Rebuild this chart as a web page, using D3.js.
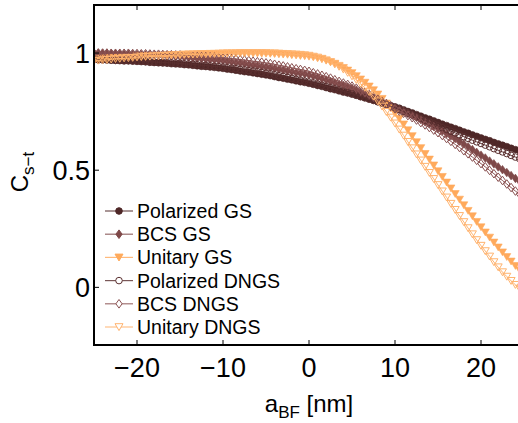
<!DOCTYPE html>
<html><head><meta charset="utf-8">
<script src="https://cdn.jsdelivr.net/npm/d3@7"></script>
<style>
html,body{margin:0;padding:0;background:#fff;}
svg{display:block;font-family:"Liberation Sans",Arial,sans-serif;}
</style></head>
<body>
<svg id="chart" width="518" height="423"></svg>
<script>
const aBF = [-25,-24.5,-24,-23.5,-23,-22.5,-22,-21.5,-21,-20.5,-20,-19.5,-19,-18.5,-18,-17.5,-17,-16.5,-16,-15.5,-15,-14.5,-14,-13.5,-13,-12.5,-12,-11.5,-11,-10.5,-10,-9.5,-9,-8.5,-8,-7.5,-7,-6.5,-6,-5.5,-5,-4.5,-4,-3.5,-3,-2.5,-2,-1.5,-1,-0.5,0,0.5,1,1.5,2,2.5,3,3.5,4,4.5,5,5.5,6,6.5,7,7.5,8,8.5,9,9.5,10,10.5,11,11.5,12,12.5,13,13.5,14,14.5,15,15.5,16,16.5,17,17.5,18,18.5,19,19.5,20,20.5,21,21.5,22,22.5,23,23.5,24,24.5,25];

const polarizedGS = [0.972,0.971,0.971,0.970,0.969,0.968,0.967,0.966,0.966,0.965,0.964,0.963,0.962,0.960,0.959,0.958,0.957,0.956,0.954,0.953,0.952,0.950,0.949,0.947,0.945,0.943,0.942,0.940,0.938,0.936,0.934,0.931,0.929,0.926,0.923,0.920,0.918,0.915,0.912,0.909,0.906,0.903,0.899,0.895,0.892,0.888,0.885,0.881,0.877,0.874,0.870,0.866,0.861,0.857,0.852,0.847,0.843,0.838,0.833,0.829,0.824,0.819,0.813,0.808,0.803,0.798,0.792,0.787,0.782,0.776,0.771,0.765,0.758,0.751,0.745,0.738,0.731,0.724,0.718,0.711,0.704,0.697,0.691,0.684,0.678,0.671,0.664,0.658,0.651,0.645,0.638,0.632,0.626,0.619,0.613,0.607,0.601,0.594,0.588,0.582,0.576];

const bcsGS = [1.000,1.000,0.999,0.999,0.998,0.997,0.997,0.996,0.996,0.995,0.994,0.993,0.992,0.991,0.990,0.989,0.988,0.987,0.986,0.985,0.984,0.982,0.981,0.979,0.977,0.976,0.974,0.972,0.971,0.969,0.967,0.964,0.962,0.959,0.957,0.954,0.951,0.948,0.946,0.943,0.940,0.937,0.934,0.930,0.927,0.923,0.920,0.916,0.913,0.910,0.906,0.901,0.896,0.890,0.885,0.879,0.873,0.867,0.862,0.856,0.850,0.842,0.834,0.826,0.818,0.810,0.802,0.793,0.785,0.776,0.768,0.759,0.751,0.742,0.734,0.725,0.716,0.706,0.697,0.687,0.678,0.667,0.656,0.646,0.635,0.624,0.612,0.600,0.588,0.576,0.564,0.552,0.539,0.527,0.514,0.502,0.490,0.477,0.465,0.452,0.440];

const unitaryGS = [0.975,0.976,0.977,0.978,0.980,0.981,0.982,0.983,0.984,0.985,0.986,0.987,0.987,0.988,0.989,0.990,0.990,0.991,0.992,0.992,0.993,0.994,0.994,0.995,0.995,0.996,0.996,0.997,0.997,0.997,0.998,0.998,0.998,0.999,0.999,0.999,0.999,0.999,0.999,0.998,0.998,0.997,0.996,0.995,0.994,0.993,0.991,0.990,0.988,0.987,0.985,0.982,0.978,0.974,0.968,0.962,0.955,0.946,0.937,0.926,0.915,0.902,0.888,0.874,0.858,0.842,0.824,0.805,0.785,0.765,0.743,0.720,0.696,0.671,0.646,0.620,0.595,0.570,0.546,0.521,0.496,0.472,0.448,0.423,0.399,0.375,0.351,0.327,0.304,0.280,0.257,0.235,0.213,0.192,0.171,0.150,0.130,0.111,0.092,0.073,0.055];

const polarizedDNGS = [0.972,0.971,0.971,0.971,0.970,0.969,0.969,0.968,0.968,0.967,0.966,0.965,0.964,0.963,0.962,0.961,0.960,0.959,0.958,0.957,0.956,0.954,0.953,0.952,0.950,0.948,0.947,0.945,0.943,0.942,0.940,0.937,0.935,0.933,0.930,0.928,0.925,0.923,0.920,0.917,0.914,0.911,0.907,0.903,0.900,0.896,0.892,0.888,0.884,0.880,0.876,0.872,0.867,0.862,0.857,0.852,0.847,0.842,0.837,0.832,0.827,0.821,0.815,0.810,0.804,0.798,0.792,0.786,0.780,0.773,0.766,0.759,0.751,0.743,0.736,0.728,0.720,0.712,0.705,0.697,0.689,0.681,0.674,0.666,0.659,0.651,0.643,0.636,0.628,0.621,0.614,0.607,0.600,0.592,0.585,0.578,0.571,0.563,0.556,0.549,0.543];

const bcsDNGS = [1.000,1.000,1.000,1.000,0.999,0.999,0.999,0.999,0.999,0.998,0.998,0.997,0.997,0.996,0.995,0.995,0.994,0.993,0.993,0.992,0.992,0.990,0.990,0.988,0.987,0.986,0.985,0.984,0.983,0.981,0.980,0.978,0.976,0.974,0.972,0.970,0.968,0.965,0.963,0.961,0.958,0.955,0.952,0.948,0.945,0.941,0.937,0.933,0.930,0.926,0.922,0.916,0.911,0.905,0.899,0.893,0.886,0.879,0.872,0.866,0.859,0.850,0.841,0.832,0.823,0.813,0.803,0.793,0.783,0.772,0.762,0.752,0.743,0.733,0.724,0.714,0.703,0.693,0.682,0.671,0.660,0.648,0.635,0.623,0.610,0.597,0.583,0.570,0.556,0.542,0.528,0.514,0.499,0.485,0.470,0.456,0.441,0.426,0.411,0.397,0.382];

const unitaryDNGS = [0.966,0.968,0.970,0.971,0.973,0.975,0.976,0.978,0.979,0.980,0.982,0.983,0.984,0.985,0.986,0.987,0.988,0.989,0.990,0.991,0.992,0.993,0.994,0.994,0.995,0.996,0.996,0.997,0.997,0.998,0.998,0.999,0.999,0.999,1.000,1.000,1.000,1.000,1.000,1.000,1.000,0.999,0.999,0.998,0.997,0.996,0.995,0.994,0.993,0.991,0.989,0.985,0.981,0.976,0.969,0.961,0.952,0.942,0.930,0.916,0.901,0.886,0.869,0.852,0.834,0.815,0.794,0.772,0.749,0.725,0.700,0.674,0.648,0.621,0.594,0.568,0.542,0.515,0.489,0.463,0.437,0.410,0.384,0.357,0.331,0.305,0.279,0.253,0.227,0.202,0.178,0.155,0.132,0.108,0.086,0.065,0.046,0.028,0.011,-0.005,-0.020];

const seriesNames = ["Polarized GS","BCS GS","Unitary GS","Polarized DNGS","BCS DNGS","Unitary DNGS"];
const xTicks = [-20,-10,0,10,20];
const yTicks = [0,0.5,1];
const xLabel = "a";
const xLabelSub = "BF";
const xLabelUnit = " [nm]";
const yLabel = "C";
const yLabelSub = "s\u2212t";

const colors = ["#4e2727","#7e4848","#ffaa5c","#5a2f2f","#8a5151","#ffb36e"];
const shapes = ["circle","diamond","triangle","circle","diamond","triangle"];
const filled = [true,true,true,false,false,false];
const values = [polarizedGS,bcsGS,unitaryGS,polarizedDNGS,bcsDNGS,unitaryDNGS];

const svg = d3.select("#chart");
const x = d3.scaleLinear().domain([-25,25]).range([94,524]);
const y = d3.scaleLinear().domain([-0.246,1.205]).range([345,5]);

function markerPath(shape){
  if(shape==="circle") return d3.symbol().type(d3.symbolCircle).size(Math.PI*3.3*3.3)();
  if(shape==="diamond") return "M0,-4.3L3.1,0L0,4.3L-3.1,0Z";
  return "M-4,-3.3L4,-3.3L0,3.6Z";
}

svg.append("defs").append("clipPath").attr("id","clip")
  .append("rect").attr("x",94).attr("y",5).attr("width",430).attr("height",340);

const plot = svg.append("g").attr("clip-path","url(#clip)");
const line = d3.line().x((d,i)=>x(aBF[i])).y(d=>y(d));

values.forEach((vals,k)=>{
  const g = plot.append("g");
  g.append("path").attr("d",line(vals)).attr("fill","none")
    .attr("stroke",colors[k]).attr("stroke-width",1);
  g.selectAll("path.m").data(vals).enter().append("path").attr("class","m")
    .attr("d",markerPath(shapes[k]))
    .attr("transform",(d,i)=>`translate(${x(aBF[i])},${y(d)})`)
    .attr("fill",filled[k]?colors[k]:"none")
    .attr("stroke",colors[k]).attr("stroke-width",filled[k]?0.6:1);
});

// axes frame
const ax = svg.append("g").attr("stroke","#000").attr("fill","none");
ax.append("line").attr("x1",94).attr("x2",94).attr("y1",4).attr("y2",346).attr("stroke-width",2);
ax.append("line").attr("x1",93).attr("x2",518).attr("y1",5).attr("y2",5).attr("stroke-width",2);
ax.append("line").attr("x1",93).attr("x2",518).attr("y1",345).attr("y2",345).attr("stroke-width",2);

// ticks
xTicks.forEach(t=>{
  ax.append("line").attr("x1",x(t)).attr("x2",x(t)).attr("y1",5).attr("y2",10).attr("stroke-width",1);
  ax.append("line").attr("x1",x(t)).attr("x2",x(t)).attr("y1",345).attr("y2",340).attr("stroke-width",1);
});
yTicks.forEach(t=>{
  ax.append("line").attr("x1",94).attr("x2",99).attr("y1",y(t)).attr("y2",y(t)).attr("stroke-width",1);
});

const fmtX = d => (d<0?"\u2212":"")+Math.abs(d);
svg.append("g").selectAll("text").data(xTicks).enter().append("text")
  .attr("x",d=>x(d)).attr("y",377).attr("text-anchor","middle")
  .attr("font-size",27).attr("fill","#000").text(fmtX);
svg.append("g").selectAll("text").data(yTicks).enter().append("text")
  .attr("x",90).attr("y",d=>y(d)+9.5).attr("text-anchor","end")
  .attr("font-size",27).attr("fill","#000").text(d=>String(d));

// x label
const xl = svg.append("text").attr("x",x(0)).attr("y",412).attr("text-anchor","middle")
  .attr("font-size",24).attr("fill","#000");
xl.append("tspan").text(xLabel);
xl.append("tspan").attr("font-size",17).attr("dy",6).text(xLabelSub);
xl.append("tspan").attr("dy",-6).text(xLabelUnit);

// y label
const yl = svg.append("text").attr("transform","translate(28,172) rotate(-90)")
  .attr("text-anchor","middle").attr("font-size",24).attr("fill","#000");
yl.append("tspan").text(yLabel);
yl.append("tspan").attr("font-size",17).attr("dy",6).text(yLabelSub);

// legend
const leg = svg.append("g");
seriesNames.forEach((name,k)=>{
  const cy = 211 + k*23.2;
  leg.append("line").attr("x1",105).attr("x2",133).attr("y1",cy).attr("y2",cy)
    .attr("stroke",colors[k]).attr("stroke-width",1.2).attr("opacity",0.8);
  leg.append("path").attr("d",markerPath(shapes[k]))
    .attr("transform",`translate(119,${cy})`)
    .attr("fill",filled[k]?colors[k]:"#fff").attr("stroke",colors[k]).attr("stroke-width",1);
  leg.append("text").attr("x",137).attr("y",cy+7).attr("font-size",19.5)
    .attr("fill","#000").text(name);
});
</script>
</body></html>
